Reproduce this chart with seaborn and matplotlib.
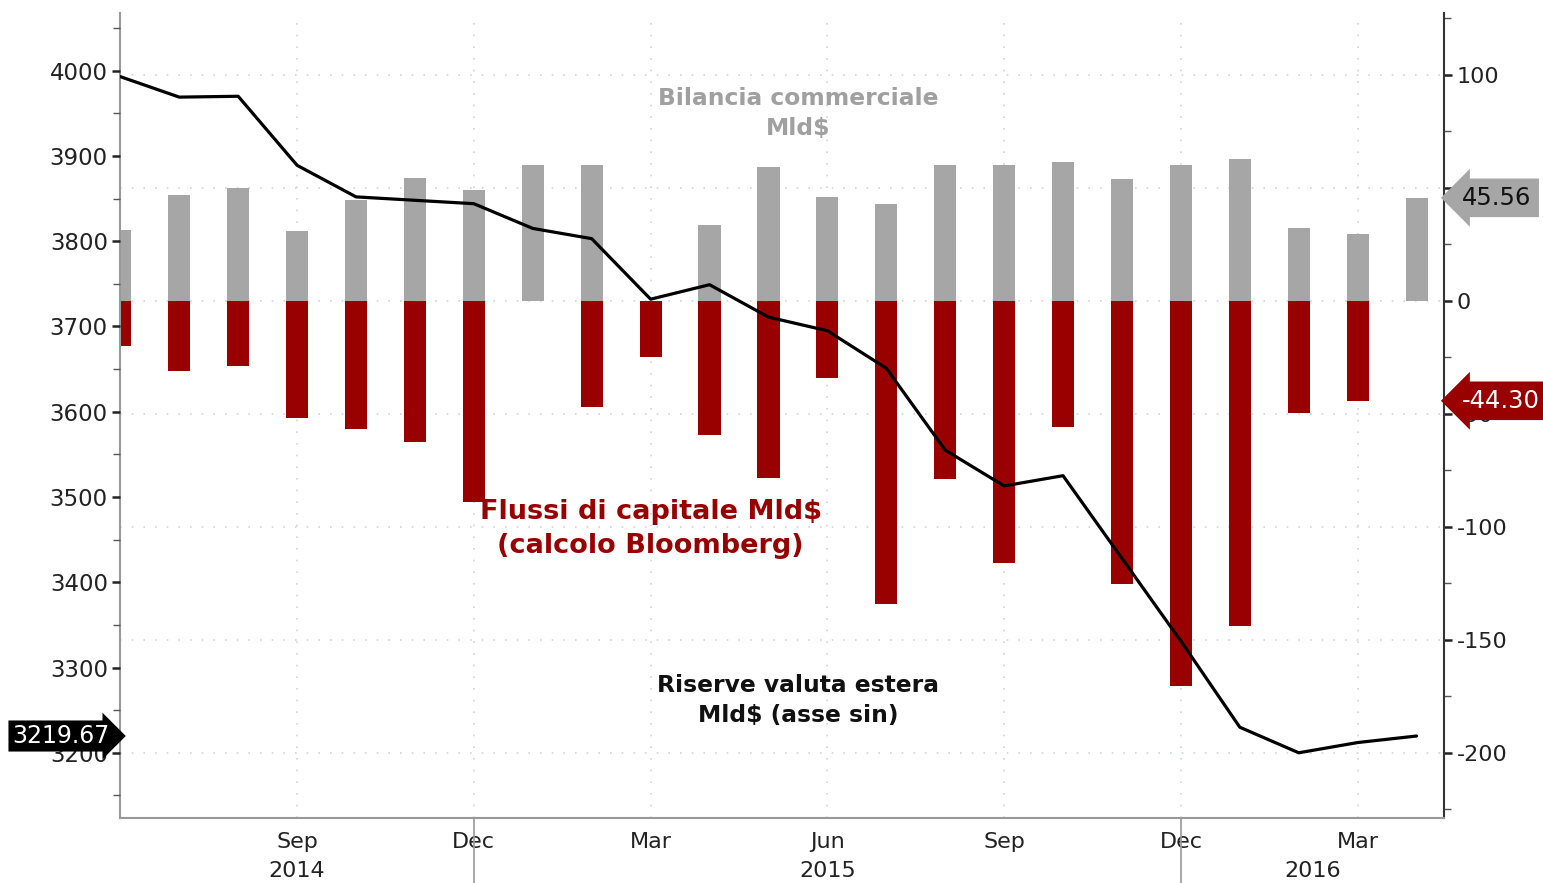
"""
Cina: riserve valuta estera, bilancia commerciale e flussi di capitale
"""
import matplotlib
matplotlib.use('Agg')
import matplotlib.pyplot as plt
from matplotlib.ticker import FixedLocator, MultipleLocator, NullFormatter
import pandas as pd
import seaborn as sns

# ── Data (Mld$) ──────────────────────────────────────────────────────────────
months = ['2014-06', '2014-07', '2014-08', '2014-09', '2014-10', '2014-11', '2014-12',
          '2015-01', '2015-02', '2015-03', '2015-04', '2015-05', '2015-06', '2015-07',
          '2015-08', '2015-09', '2015-10', '2015-11', '2015-12',
          '2016-01', '2016-02', '2016-03', '2016-04']

bilancia = [31.5, 46.6, 49.7, 30.7, 44.8, 54.4, 49.1, 59.9, 60.3, 0.0, 33.7, 59.1,
            46.1, 42.9, 59.9, 59.9, 61.3, 53.7, 59.9, 62.8, 32.1, 29.6, 45.56]

flussi = [-20.0, -31.3, -28.8, -51.7, -56.6, -62.4, -89.0, 0.0, -46.9, -24.7, -59.4,
          -78.6, -34.4, -134.2, -78.8, -116.0, -55.7, -125.6, -170.7, -143.8, -49.8,
          -44.30, None]

riserve = [3993, 3969, 3970, 3889, 3852, 3848, 3844, 3815, 3803, 3732, 3749, 3711,
           3695, 3651, 3555, 3513, 3525, 3428, 3331, 3230, 3200, 3212, 3219.67]

quarter_ticks = [3, 6, 9, 12, 15, 18, 21]
quarter_labels = ['Sep', 'Dec', 'Mar', 'Jun', 'Sep', 'Dec', 'Mar']
year_breaks = [6, 18]
years = ['2014', '2015', '2016']

df = pd.DataFrame({'mese': months, 'pos': range(len(months)),
                   'bilancia': bilancia, 'flussi': flussi, 'riserve': riserve})

GREY = '#a6a6a6'
RED = '#990000'
GRID = '#cdd6dc'

sns.set_style('white')
plt.rcParams['font.family'] = ['DejaVu Sans']

fig = plt.figure(figsize=(15.43, 8.83), dpi=100)
ax = fig.add_axes([0.078, 0.0736, 0.858, 0.912])   # bars, right-hand scale
ax_l = ax.twinx()                                   # reserves, left-hand scale

# ── Bars ─────────────────────────────────────────────────────────────────────
sns.barplot(data=df, x='pos', y='bilancia', native_scale=True, width=0.375,
            color=GREY, saturation=1, errorbar=None, linewidth=0, ax=ax, zorder=2)
sns.barplot(data=df.dropna(subset=['flussi']), x='pos', y='flussi', native_scale=True,
            width=0.375, color=RED, saturation=1, errorbar=None, linewidth=0, ax=ax,
            zorder=2)

# ── Line ─────────────────────────────────────────────────────────────────────
sns.lineplot(data=df, x='pos', y='riserve', color='black', lw=2.3, ax=ax_l)

# ── Axes setup ───────────────────────────────────────────────────────────────
ax.set_xlim(0, 22.47)
ax.set_ylim(-229, 127.5)
ax_l.set_ylim(3123.5, 4068)

ax.yaxis.tick_right()
ax_l.yaxis.tick_left()
ax.set(xlabel='', ylabel='')
ax_l.set(xlabel='', ylabel='')

ax.yaxis.set_minor_locator(MultipleLocator(25))
ax.set_yticks([-200, -150, -100, -50, 0, 50, 100])
ax.set_yticklabels(['-200', '-150', '-100', '-50', '0', '50', '100'])
ax_l.yaxis.set_major_locator(MultipleLocator(100))
ax_l.yaxis.set_minor_locator(MultipleLocator(50))

ax.xaxis.set_major_locator(FixedLocator(quarter_ticks))
ax.set_xticklabels(quarter_labels)
ax.xaxis.set_minor_locator(FixedLocator(range(len(months))))
ax.xaxis.set_minor_formatter(NullFormatter())

ax.tick_params(axis='x', which='both', length=6, width=1.2, color='#777777',
               labelsize=16, labelcolor='#222222', pad=4)
ax.tick_params(axis='y', which='major', length=6, width=1.8, color='#222222',
               labelsize=16, labelcolor='#222222', pad=3, right=True, left=False)
ax.tick_params(axis='y', which='minor', length=5, width=1.0, color='#555555',
               right=True, left=False)
ax_l.tick_params(axis='y', which='major', length=6, width=1.8, color='#222222',
                 labelsize=16.5, labelcolor='#222222', pad=3)
ax_l.tick_params(axis='y', which='minor', length=5, width=1.0, color='#555555')

ax.grid(True, which='major', axis='both', color=GRID, linestyle=(0, (1, 6)), lw=1.2)
ax.set_axisbelow(True)

ax.spines['top'].set_visible(False)
for s in ax_l.spines.values():
    s.set_visible(False)
ax.spines['left'].set_color('#999999')
ax.spines['bottom'].set_color('#999999')
ax.spines['right'].set_color('#333333')
for s in ['left', 'right', 'bottom']:
    ax.spines[s].set_linewidth(1.5)

# year labels and separators under the x axis
xt = ax.get_xaxis_transform()
for b in year_breaks:
    ax.plot([b, b], [0, -0.1], transform=xt, color='#999999', lw=1.2, clip_on=False)
edges = [ax.get_xlim()[0]] + year_breaks + [ax.get_xlim()[1]]
for i, yr in enumerate(years):
    ax.text((edges[i] + edges[i + 1]) / 2, -0.066, yr, transform=xt, ha='center',
            va='center', fontsize=16, color='#222222')

# ── Series labels ────────────────────────────────────────────────────────────
ax.text(11.5, 83, 'Bilancia commerciale\nMld$', ha='center', va='center',
        fontsize=16.8, fontweight='bold', color='#a0a0a0', linespacing=1.4)
ax.text(9.0, -101, 'Flussi di capitale Mld$\n(calcolo Bloomberg)', ha='center',
        va='center', fontsize=19.5, fontweight='bold', color=RED, linespacing=1.4)
ax.text(11.5, -177, 'Riserve valuta estera\nMld$ (asse sin)', ha='center',
        va='center', fontsize=16.8, fontweight='bold', color='#111111', linespacing=1.4)

# ── Last-value tags ──────────────────────────────────────────────────────────
yt_r = ax.get_yaxis_transform()
yt_l = ax_l.get_yaxis_transform()
ax_l.annotate(f'{bilancia[-1]:.2f}', xy=(1, bilancia[-1]), xycoords=yt_r,
              xytext=(13, 0), textcoords='offset points', ha='left', va='center',
              fontsize=17.5, color='#111111', annotation_clip=False,
              bbox=dict(boxstyle='larrow,pad=0.3', fc=GREY, ec='none'))
ax_l.annotate(f'{flussi[-2]:.2f}', xy=(1, flussi[-2]), xycoords=yt_r,
              xytext=(13, 0), textcoords='offset points', ha='left', va='center',
              fontsize=17.5, color='white', annotation_clip=False,
              bbox=dict(boxstyle='larrow,pad=0.3', fc=RED, ec='none'))
ax_l.annotate(f'{riserve[-1]:.2f}', xy=(0, riserve[-1]), xycoords=yt_l,
              xytext=(-8, 0), textcoords='offset points', ha='right', va='center',
              fontsize=17, color='white', annotation_clip=False,
              bbox=dict(boxstyle='rarrow,pad=0.15', fc='black', ec='none'))

plt.savefig('out.png', dpi=100)
